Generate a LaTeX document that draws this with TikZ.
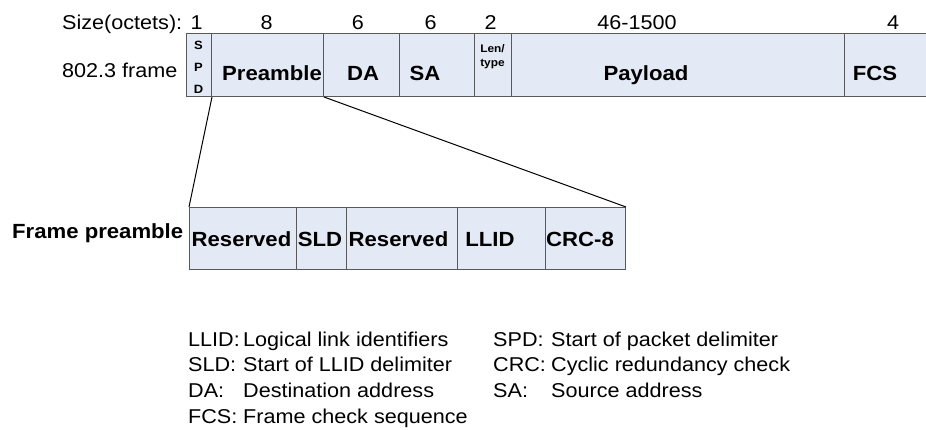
\documentclass[tikz,border=0pt]{standalone}
\usepackage{fontspec}
\setmainfont[FakeStretch=1.08]{Liberation Sans}
\definecolor{framefill}{RGB}{228,234,245}
\tikzset{
    field/.style={draw=black!65, fill=framefill, line width=1pt, minimum height=63, inner sep=0, anchor=north west},
    lowfield/.style={field, minimum height=62},
    fieldtext/.style={font=\fontsize{20.5}{24}\selectfont\bfseries, anchor=base, inner sep=0},
    plain/.style={font=\fontsize{20}{24}\selectfont, anchor=base west, inner sep=0},
    link/.style={line width=1pt}
}
\begin{document}
\begin{tikzpicture}[x=1pt, y=-1pt]
            \useasboundingbox (0,0) rectangle (926,430);
            % Sizes
            \node[plain] (size) at (62,29.3) {Size(octets):};
            \foreach \x/\t [count=\i] in {196.7/1, 266.7/8, 358/6, 430.7/6, 490.7/2, 637/46-1500, 893/4} {
                \node[plain, anchor=base] (sz\i) at (\x,29.3) {\t};
            }
            % 802.3 frame
            \node[plain] (frame) at (62,78) {802.3 frame};
            \node[field, minimum width=25] (spd) at (186,33) {};
            \node[fieldtext, font=\fontsize{12}{22}\selectfont\bfseries] (spd-t) at (198.5,94)
                {\begin{tabular}[b]{@{}c@{}}S\\P\\D\end{tabular}};
            \foreach \n/\x/\w/\tx/\t in {pre/211/112/272/Preamble, da/323/76/363/DA, sa/399/75/425/SA,
                                        pay/511/333/646/Payload, fcs/844/86/875/FCS} {
                \node[field, minimum width=\w] (\n) at (\x,33) {};
                \node[fieldtext] (\n-t) at (\tx,81) {\t};
            }
            \node[field, minimum width=37] (len) at (474,33) {};
            \node[fieldtext, font=\fontsize{11}{13.5}\selectfont\bfseries] (len-t) at (492.5,66.5)
                {\begin{tabular}[b]{@{}c@{}}Len/\\type\end{tabular}};
            % Frame preamble
            \node[fieldtext, anchor=base west] (preamble) at (12,239) {Frame preamble};
            \foreach \n/\x/\w/\tx/\t in {res1/189/107/241.5/Reserved, sld/296/50/320/SLD, res2/346/111/398.5/Reserved,
                                        llid/457/88/490/LLID, crc/545/80/580/CRC-8} {
                \node[lowfield, minimum width=\w] (\n) at (\x,207) {};
                \node[fieldtext] (\n-t) at (\tx,247) {\t};
            }
            % Zoom lines
            \draw[link] (spd.south east) -- (res1.north west);
            \draw[link] (pre.south east) -- (crc.north east);
            % Legend
            \foreach \a/\d [count=\i] in {LLID:/Logical link identifiers, SLD:/Start of LLID delimiter,
                                          DA:/Destination address, FCS:/Frame check sequence} {
                \node[plain] (la\i) at (188,320.3+25.7*\i) {\a};
                \node[plain] (ld\i) at (243,320.3+25.7*\i) {\d};
            }
            \foreach \a/\d [count=\i] in {SPD:/Start of packet delimiter, CRC:/Cyclic redundancy check,
                                          SA:/Source address} {
                \node[plain] (ra\i) at (493,320.3+25.7*\i) {\a};
                \node[plain] (rd\i) at (551,320.3+25.7*\i) {\d};
            }
        \end{tikzpicture}
\end{document}
